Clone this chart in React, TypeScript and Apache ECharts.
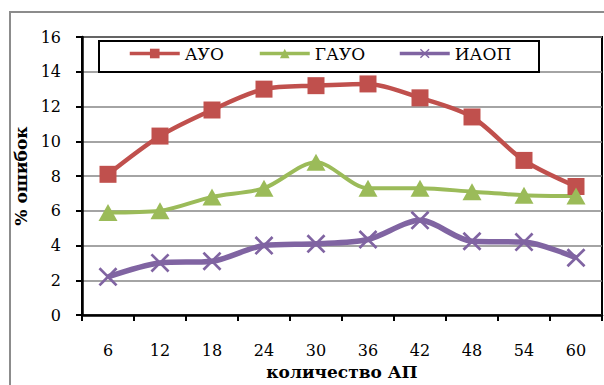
import React, { useEffect, useRef } from "react";
import * as echarts from "echarts";

const categories = ["6", "12", "18", "24", "30", "36", "42", "48", "54", "60"];
const seriesNames = ["АУО", "ГАУО", "ИАОП"];
const auo = [8.1, 10.3, 11.8, 13.0, 13.2, 13.3, 12.5, 11.4, 8.9, 7.4];
const gauo = [5.9, 6.0, 6.8, 7.3, 8.8, 7.3, 7.3, 7.1, 6.9, 6.85];
const iaop = [2.2, 3.0, 3.1, 4.0, 4.1, 4.35, 5.45, 4.25, 4.2, 3.3];
const yMin = 0;
const yMax = 16;
const yStep = 2;
const xName = "количество АП";
const yName = "% ошибок";

const FONT = "DejaVu Serif";
const RED = "#C0504D";
const GREEN = "#9BBB59";
const PURPLE = "#8064A2";
const XSYM = "path://M0,1L1,0L5,4L9,0L10,1L6,5L10,9L9,10L5,6L1,10L0,9L4,5Z";

export default function App() {
  const ref = useRef<HTMLDivElement>(null);
  useEffect(() => {
    if (!ref.current) return;
    const chart = echarts.init(ref.current, null, { renderer: "svg" });
    const legendBase = {
      top: 45,
      itemWidth: 50,
      itemHeight: 12,
      itemGap: 5,
      padding: 0,
      z: 10,
      textStyle: { fontFamily: FONT, fontSize: 17, color: "#000" },
      lineStyle: { width: 3.5 },
    };
    chart.setOption({
      animation: false,
      backgroundColor: "#fff",
      textStyle: { fontFamily: FONT },
      grid: {
        left: 82,
        right: 2,
        top: 37,
        bottom: 66,
        show: true,
        borderColor: "#000",
        borderWidth: 2,
      },
      graphic: [
        {
          type: "rect",
          z: 0,
          silent: true,
          shape: { x: 10, y: 12, width: 640, height: 420 },
          style: { fill: "none", stroke: "#8c8c8c", lineWidth: 2 },
        },
        {
          type: "rect",
          z: 5,
          silent: true,
          shape: { x: 99, y: 41, width: 440, height: 31 },
          style: { fill: "#fff", stroke: "#000", lineWidth: 2 },
        },
      ],
      legend: [
        { ...legendBase, left: 128, data: [seriesNames[0]] },
        { ...legendBase, left: 258, data: [seriesNames[1]] },
        { ...legendBase, left: 398, data: [seriesNames[2]] },
      ],
      xAxis: {
        type: "category",
        data: categories,
        boundaryGap: true,
        name: xName,
        nameLocation: "middle",
        nameGap: 44,
        nameTextStyle: { fontFamily: FONT, fontSize: 17, fontWeight: "bold", color: "#000" },
        axisLine: { lineStyle: { color: "#000", width: 2.5 } },
        axisTick: { show: true, length: 6, alignWithLabel: false, lineStyle: { color: "#000", width: 2 } },
        axisLabel: { fontFamily: FONT, fontSize: 16, color: "#000", margin: 27 },
        splitLine: { show: false },
      },
      yAxis: {
        type: "value",
        min: yMin,
        max: yMax,
        interval: yStep,
        name: yName,
        nameLocation: "middle",
        nameGap: 44,
        nameRotate: 90,
        nameTextStyle: { fontFamily: FONT, fontSize: 17, fontWeight: "bold", color: "#000" },
        axisLine: { show: true, lineStyle: { color: "#000", width: 2.5 } },
        axisTick: { show: true, length: 6, lineStyle: { color: "#000", width: 2 } },
        axisLabel: { fontFamily: FONT, fontSize: 16, color: "#000", margin: 21 },
        splitLine: { show: true, lineStyle: { color: "#868686", width: 1.5 } },
      },
      series: [
        {
          name: seriesNames[0],
          type: "line",
          data: auo,
          smooth: 0.3,
          symbol: "rect",
          symbolSize: 17,
          lineStyle: { color: RED, width: 4.5 },
          itemStyle: { color: RED },
          z: 3,
        },
        {
          name: seriesNames[1],
          type: "line",
          data: gauo,
          smooth: 0.3,
          symbol: "triangle",
          symbolSize: [19, 17],
          lineStyle: { color: GREEN, width: 4 },
          itemStyle: { color: GREEN },
          z: 3,
        },
        {
          name: seriesNames[2],
          type: "line",
          data: iaop,
          smooth: 0.3,
          symbol: XSYM,
          symbolSize: 19,
          lineStyle: { color: PURPLE, width: 5.5 },
          itemStyle: { color: PURPLE },
          z: 3,
        },
      ],
    });
    return () => chart.dispose();
  }, []);
  return (
    <div
      ref={ref}
      style={{ position: "fixed", left: 0, top: 0, width: 604, height: 385 }}
    />
  );
}
